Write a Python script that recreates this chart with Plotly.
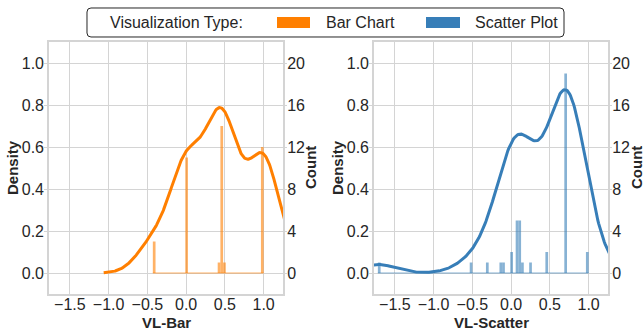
import re
import numpy as np
import plotly.graph_objects as go

# ---------------- data ----------------
bar_values = [-0.43, 0.0, 0.42, 0.46, 0.49, 1.0]
bar_counts = [3, 11, 1, 14, 1, 12]
bar_nbins = 41

scatter_values = [-1.72, -0.51, -0.30, -0.13, -0.10, 0.0, 0.08, 0.11, 0.15, 0.245, 0.47, 0.715, 1.0]
scatter_counts = [1, 1, 1, 1, 1, 2, 5, 5, 1, 1, 2, 19, 2]
scatter_nbins = 78

x_ticks = [-1.5, -1.0, -0.5, 0.0, 0.5, 1.0]
x_ticklabels = ["\u22121.5", "\u22121.0", "\u22120.5", "0.0", "0.5", "1.0"]
density_ticks = [0.0, 0.2, 0.4, 0.6, 0.8, 1.0]
density_ticklabels = ["0.0", "0.2", "0.4", "0.6", "0.8", "1.0"]
count_ticks = [0, 4, 8, 12, 16, 20]
count_ticklabels = ["0", "4", "8", "12", "16", "20"]

legend_title = "Visualization Type:"
series_names = ["Bar Chart", "Scatter Plot"]
x_titles = ["VL-Bar", "VL-Scatter"]

# ---------------- style ----------------
FONT = "Liberation Sans, Arial, sans-serif"
TXT = "#262626"
GRID = "#d4d4d4"
line_colors = ["#ff7f00", "#377eb8"]
bar_colors = ["rgba(255,127,0,0.6)", "rgba(55,126,184,0.6)"]
W, H = 643, 330


def kde(samples, grid):
    s = np.asarray(samples, float)
    n = s.size
    bw = n ** (-1 / 5) * s.std(ddof=1)
    z = (grid[:, None] - s[None, :]) / bw
    return np.exp(-0.5 * z ** 2).sum(axis=1) / (n * bw * np.sqrt(2 * np.pi)), bw


fig = go.Figure()

panels = [
    (bar_values, bar_counts, bar_nbins),
    (scatter_values, scatter_counts, scatter_nbins),
]
x_domains = [[49 / W, 283 / W], [374 / W, 608 / W]]
y_domain = [(H - 294) / H, (H - 42) / H]

for i, (vals, cnts, nb) in enumerate(panels):
    raw = np.repeat(np.asarray(vals, float), cnts)
    counts, edges = np.histogram(raw, bins=nb, range=(raw.min(), raw.max()))
    centers = (edges[:-1] + edges[1:]) / 2
    widths = np.diff(edges)
    s_bw = raw.size ** (-1 / 5) * raw.std(ddof=1)
    grid = np.linspace(raw.min() - 3 * s_bw, raw.max() + 3 * s_bw, 400)
    dens, _ = kde(raw, grid)

    xa = "x" if i == 0 else "x2"
    ya_d = "y" if i == 0 else "y3"
    ya_c = "y2" if i == 0 else "y4"
    fig.add_trace(go.Scatter(x=grid, y=dens, mode="lines", xaxis=xa, yaxis=ya_d,
                             line=dict(color=line_colors[i], width=3),
                             showlegend=False, hoverinfo="skip"))
    # outline of the empty histogram bins along the baseline
    fig.add_trace(go.Scatter(x=[edges[0], edges[-1]], y=[0, 0], mode="lines",
                             xaxis=xa, yaxis=ya_c, line=dict(color=bar_colors[i], width=1.2),
                             showlegend=False, hoverinfo="skip"))
    fig.add_trace(go.Bar(x=centers, y=counts, width=widths, xaxis=xa, yaxis=ya_c,
                         marker=dict(color=bar_colors[i], line=dict(width=0)),
                         showlegend=False, hoverinfo="skip"))

tickfont = dict(family=FONT, size=16, color=TXT)
common_x = dict(range=[-1.77, 1.25], tickvals=x_ticks, ticktext=x_ticklabels,
                showgrid=True, gridcolor=GRID, gridwidth=1.2, zeroline=False,
                showline=True, linecolor=GRID, linewidth=1.6, mirror=True,
                ticks="", tickfont=tickfont, automargin=False, ticklabelstandoff=-5)
common_yd = dict(range=[-0.1, 1.1], tickvals=density_ticks, ticktext=density_ticklabels,
                 showgrid=True, gridcolor=GRID, gridwidth=1.2, zeroline=False,
                 showline=True, linecolor=GRID, linewidth=1.6, mirror=True,
                 ticks="outside", ticklen=3, tickwidth=1.2, tickcolor=GRID,
                 ticklabelstandoff=-3,
                 tickfont=tickfont, domain=y_domain, automargin=False)
common_yc = dict(range=[-2, 22], tickvals=count_ticks, ticktext=count_ticklabels,
                 showgrid=False, zeroline=False, side="right",
                 ticks="outside", ticklen=3, tickwidth=1.2, tickcolor=GRID,
                 ticklabelstandoff=-3,
                 tickfont=tickfont, automargin=False)

fig.update_layout(
    template="none",
    width=W, height=H, margin=dict(l=0, r=0, t=0, b=0, pad=0),
    paper_bgcolor="white", plot_bgcolor="white", showlegend=False, barmode="overlay",
    xaxis=dict(domain=x_domains[0], anchor="y", **common_x),
    xaxis2=dict(domain=x_domains[1], anchor="y3", **common_x),
    yaxis=dict(anchor="x", **common_yd),
    yaxis2=dict(anchor="x", overlaying="y", **common_yc),
    yaxis3=dict(anchor="x2", **common_yd),
    yaxis4=dict(anchor="x2", overlaying="y3", **common_yc),
)

ann = []
yc = (y_domain[0] + y_domain[1]) / 2
for i in range(2):
    xc = (x_domains[i][0] + x_domains[i][1]) / 2
    ann.append(dict(text=f"<b>{x_titles[i]}</b>", x=xc, y=(H - 322) / H, xref="paper", yref="paper",
                    showarrow=False, xanchor="center", yanchor="middle",
                    font=dict(family=FONT, size=15, color=TXT)))
for px, t in [(13, "Density"), (311, "Count"), (338, "Density"), (637, "Count")]:
    ann.append(dict(text=f"<b>{t}</b>", x=px / W, y=yc, xref="paper", yref="paper",
                    showarrow=False, textangle=-90, xanchor="center", yanchor="middle",
                    font=dict(family=FONT, size=15, color=TXT)))

# legend box (drawn manually in pixel units converted to paper)
x0, x1, y0, y1, r = 87, 564, 8, 37, 4


def px2p(x, y):
    return x / W, (H - y) / H


path = (f"M {x0 + r},{y0} L {x1 - r},{y0} Q {x1},{y0} {x1},{y0 + r} L {x1},{y1 - r} "
        f"Q {x1},{y1} {x1 - r},{y1} L {x0 + r},{y1} Q {x0},{y1} {x0},{y1 - r} "
        f"L {x0},{y0 + r} Q {x0},{y0} {x0 + r},{y0} Z")


def conv(m):
    a, b = px2p(float(m.group(1)), float(m.group(2)))
    return f"{a:.5f},{b:.5f}"


path_p = re.sub(r"([\d.]+),([\d.]+)", conv, path)
shapes = [dict(type="path", path=path_p, xref="paper", yref="paper",
               line=dict(color=TXT, width=1), fillcolor="white")]
ly = 22.5
for (pa, pb), col in zip([(277, 310), (426, 460)], line_colors):
    a0, b0 = px2p(pa, 17)
    a1, b1 = px2p(pb, 28)
    shapes.append(dict(type="rect", xref="paper", yref="paper", x0=a0, x1=a1, y0=b1, y1=b0,
                       line=dict(width=0), fillcolor=col))
for px, t in [(108, legend_title), (324, series_names[0]), (473, series_names[1])]:
    a, b = px2p(px, ly)
    ann.append(dict(text=t, x=a, y=b, xref="paper", yref="paper", xanchor="left",
                    yanchor="middle", showarrow=False, font=dict(family=FONT, size=16, color=TXT)))

fig.update_layout(annotations=ann, shapes=shapes)
fig.write_html("out.html", config={"displayModeBar": False},
               post_script="document.body.style.margin='0';document.body.style.overflow='hidden';")
